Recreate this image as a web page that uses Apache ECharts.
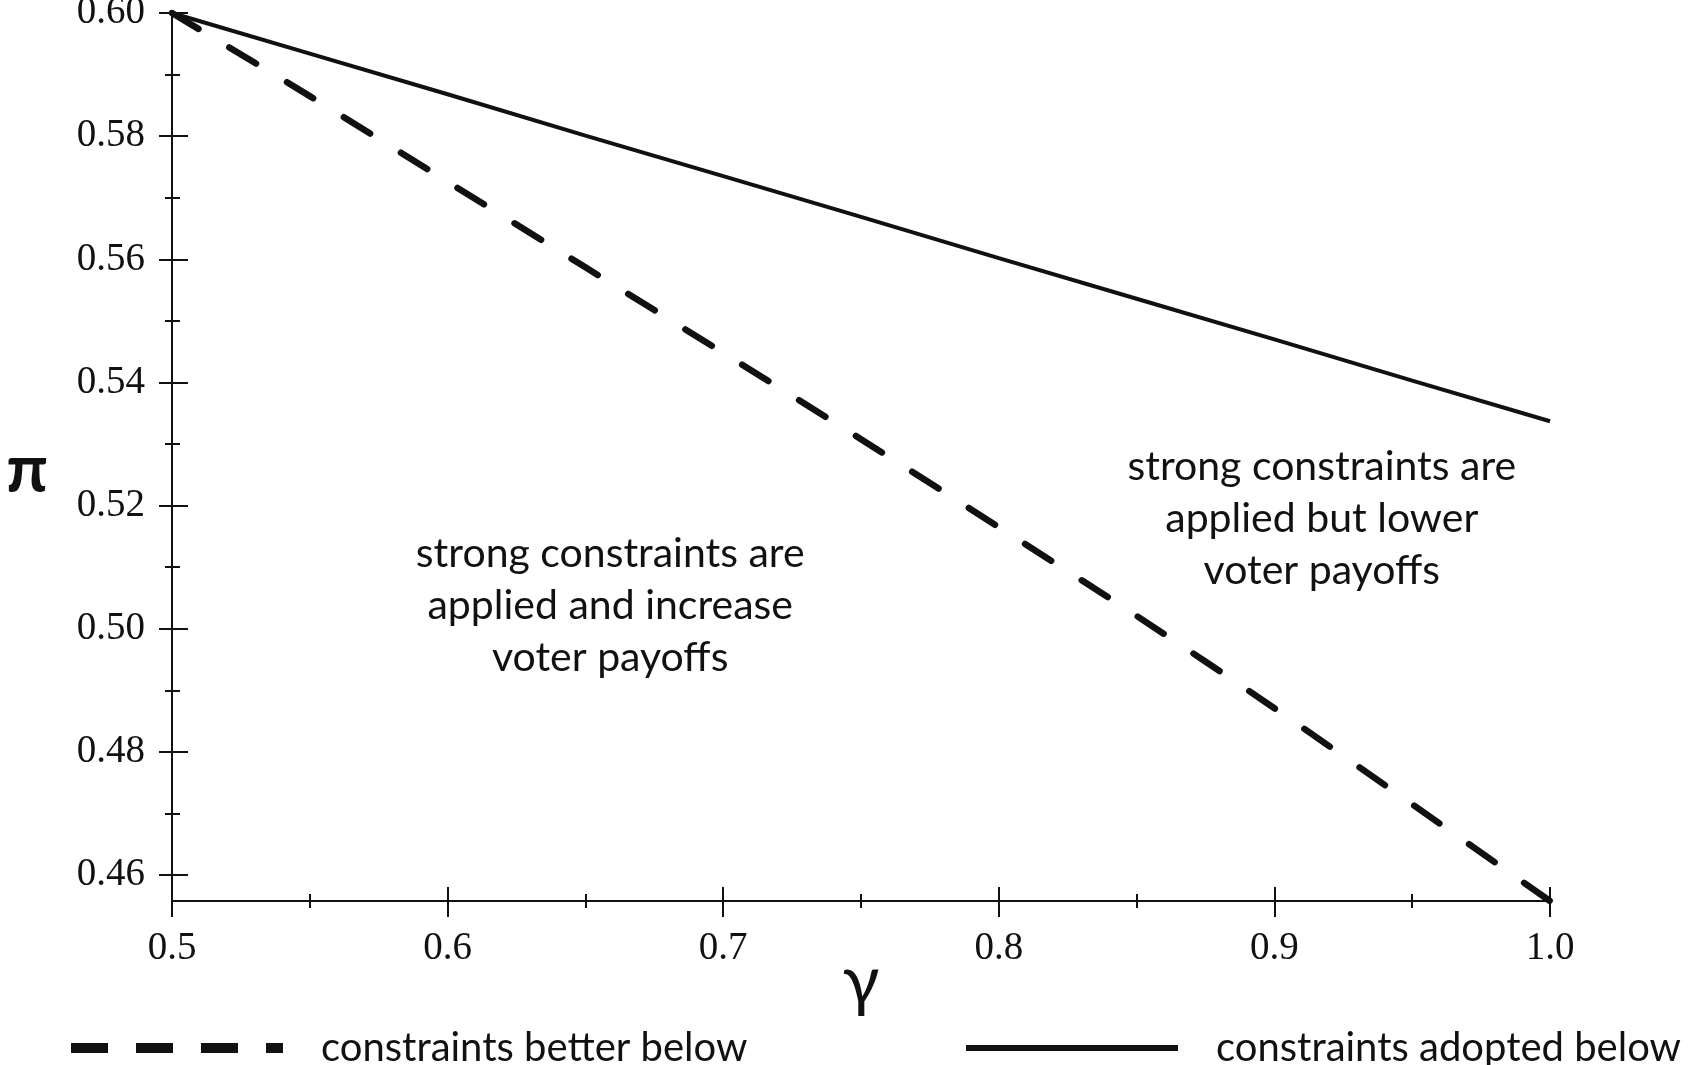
<!DOCTYPE html>
<html>
<head>
<meta charset="utf-8">
<script src="https://cdn.jsdelivr.net/npm/echarts@6/dist/echarts.min.js"></script>
<style>
  html, body { margin: 0; padding: 0; background: #fff; }
  #chart { width: 1688px; height: 1065px; }
</style>
</head>
<body>
<div id="chart"></div>
<script>
// values
var gamma = [0.5, 0.55, 0.6, 0.65, 0.7, 0.75, 0.8, 0.85, 0.9, 0.95, 1.0];
var adoptedBelow = [0.600, 0.5934, 0.5868, 0.5801, 0.5735, 0.5669, 0.5602, 0.5536, 0.5470, 0.5403, 0.5337];
var betterBelow = [0.600, 0.5865, 0.5726, 0.5587, 0.5448, 0.5308, 0.5165, 0.5021, 0.4871, 0.4715, 0.4558];
var yTicks = [0.46, 0.48, 0.50, 0.52, 0.54, 0.56, 0.58, 0.60];
var yMinorTicks = [0.47, 0.49, 0.51, 0.53, 0.55, 0.57, 0.59];
var leftNote = 'strong constraints are\napplied and increase\nvoter payoffs';
var rightNote = 'strong constraints are\napplied but lower\nvoter payoffs';

var ink = '#111';
var serif = 'Liberation Serif';
var sans = 'Lato';
var yMin = 0.4558, yMax = 0.6;

function pairs(xs, ys) {
  return xs.map(function (x, i) { return [x, ys[i]]; });
}

function yAx(ticks, len, inside, main) {
  return {
    type: 'value', min: yMin, max: yMax, position: 'left', offset: 0,
    axisLine: { show: main, lineStyle: { color: ink, width: 2 } },
    axisTick: { show: true, customValues: ticks, inside: inside, length: len,
      lineStyle: { color: ink, width: 2 } },
    axisLabel: main ? {
      show: true, customValues: yTicks, margin: 27, color: ink,
      fontFamily: serif, fontSize: 39,
      formatter: function (v) { return v.toFixed(2); }
    } : { show: false },
    splitLine: { show: false },
    name: main ? 'π' : '',
    nameLocation: 'middle', nameRotate: 0, nameGap: 124, nameMoveOverlap: false,
    nameTextStyle: { fontFamily: sans, fontSize: 66, fontWeight: 'bold', color: ink,
      align: 'right', verticalAlign: 'top', lineHeight: 28 }
  };
}

function xAx(inside, main) {
  return {
    type: 'value', min: 0.5, max: 1.0, interval: 0.1, position: 'bottom', offset: 0,
    axisLine: { show: main, lineStyle: { color: ink, width: 2 } },
    axisTick: { show: true, inside: inside, length: inside ? 14 : 16,
      lineStyle: { color: ink, width: 2 } },
    minorTick: { show: true, splitNumber: 2, length: 7,
      lineStyle: { color: ink, width: 2 } },
    axisLabel: main ? {
      show: true, margin: 28, color: ink, fontFamily: serif, fontSize: 39,
      formatter: function (v) { return v.toFixed(1); }
    } : { show: false },
    splitLine: { show: false },
    minorSplitLine: { show: false },
    name: main ? 'γ' : '',
    nameLocation: 'middle', nameGap: 47, nameMoveOverlap: false,
    nameTextStyle: { fontFamily: sans, fontSize: 68, color: ink }
  };
}

function legendAt(left, item) {
  item.itemStyle = { color: 'rgba(0,0,0,0)', borderWidth: 0, opacity: 0 };
  return {
    left: left, top: 1028, padding: 0,
    itemWidth: 212, itemHeight: 10,
    textStyle: { fontFamily: sans, fontSize: 40, color: ink, padding: [0, 0, 0, 33] },
    data: [item]
  };
}

var chart = echarts.init(document.getElementById('chart'));
chart.setOption({
  animation: false,
  backgroundColor: '#fff',
  grid: { left: 172, right: 138, top: 13, bottom: 164, containLabel: false, outerBoundsMode: 'none' },
  xAxis: [xAx(false, true), xAx(true, false)],
  yAxis: [
    yAx(yTicks, 13, false, true),
    yAx(yTicks, 16, true, false),
    yAx(yMinorTicks, 7, false, false),
    yAx(yMinorTicks, 8, true, false)
  ],
  legend: [
    legendAt(66, { name: 'constraints better below',
      lineStyle: { width: 10, type: [37, 28], cap: 'butt', color: ink } }),
    legendAt(963, { name: 'constraints adopted below',
      lineStyle: { width: 6, type: 'solid', color: ink } })
  ],
  series: [
    {
      name: 'constraints better below', type: 'line', symbol: 'none', smooth: 0.3,
      data: pairs(gamma, betterBelow),
      lineStyle: { color: ink, width: 6.5, type: [31, 36], cap: 'round' },
      itemStyle: { color: ink },
      markPoint: {
        symbol: 'rect', symbolSize: 1, itemStyle: { color: 'transparent' },
        label: { show: true, color: ink, fontFamily: sans, fontSize: 41, lineHeight: 52,
          align: 'center', verticalAlign: 'middle', formatter: leftNote },
        data: [{ coord: [0.659, 0.5037] }]
      }
    },
    {
      name: 'constraints adopted below', type: 'line', symbol: 'none',
      data: pairs(gamma, adoptedBelow),
      lineStyle: { color: ink, width: 4 },
      itemStyle: { color: ink },
      markPoint: {
        symbol: 'rect', symbolSize: 1, itemStyle: { color: 'transparent' },
        label: { show: true, color: ink, fontFamily: sans, fontSize: 41, lineHeight: 52,
          align: 'center', verticalAlign: 'middle', formatter: rightNote },
        data: [{ coord: [0.9172, 0.5179] }]
      }
    }
  ]
});
</script>
</body>
</html>
